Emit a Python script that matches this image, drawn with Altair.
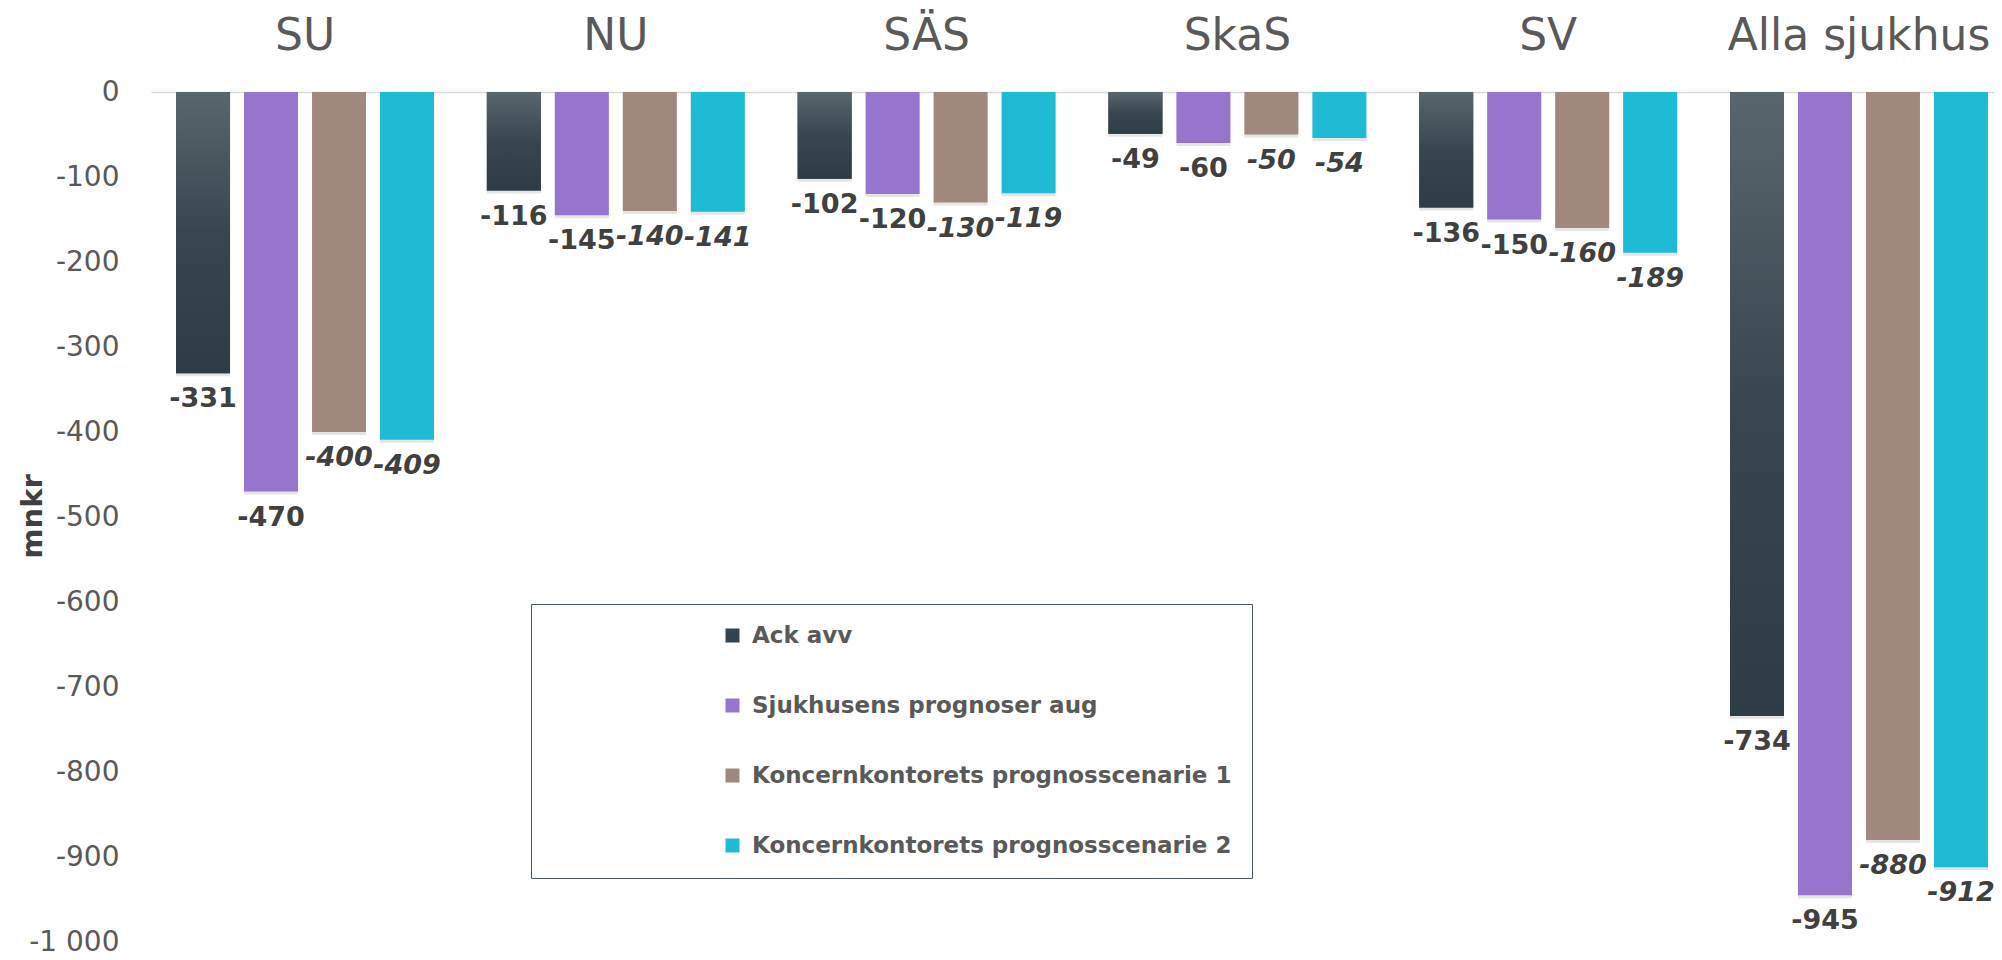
import altair as alt
import pandas as pd

hospitals = ["SU", "NU", "SÄS", "SkaS", "SV", "Alla sjukhus"]
series = [
    "Ack avv",
    "Sjukhusens prognoser aug",
    "Koncernkontorets prognosscenarie 1",
    "Koncernkontorets prognosscenarie 2",
]
ack_avv = [-331, -116, -102, -49, -136, -734]
sjukhusens = [-470, -145, -120, -60, -150, -945]
scenario1 = [-400, -140, -130, -50, -160, -880]
scenario2 = [-409, -141, -119, -54, -189, -912]
y_ticks = list(range(-1000, 1, 100))
colors = ["#34434d", "#9575cd", "#a1887f", "#1fbad3"]

rows = []
for s, vals in zip(series, [ack_avv, sjukhusens, scenario1, scenario2]):
    for h, v in zip(hospitals, vals):
        rows.append({"sjukhus": h, "serie": s, "mnkr": v, "etikett": str(v)})
df = pd.DataFrame(rows)

FONT = "DejaVu Sans"

x_enc = alt.X(
    "sjukhus:N",
    sort=hospitals,
    scale=alt.Scale(paddingInner=0.17, paddingOuter=0.05, align=0.806),
    axis=alt.Axis(
        orient="top", title=None, labelAngle=0, labelFont=FONT, labelFontSize=44,
        labelColor="#595959", labelPadding=56, labelBaseline="middle",
        ticks=False, tickSize=0, domainColor="#d9d9d9", domainWidth=1.5, labelLimit=500,
    ),
)
xoff_enc = alt.XOffset(
    "serie:N", sort=series,
    scale=alt.Scale(domain=series, paddingInner=0.206, paddingOuter=0),
)
y_enc = alt.Y(
    "mnkr:Q",
    scale=alt.Scale(domain=[-1000, 0], nice=False, zero=False),
    axis=alt.Axis(
        values=y_ticks, grid=False, domain=False, ticks=False, tickSize=0,
        labelPadding=32, labelFont=FONT, labelFontSize=28, labelColor="#595959",
        labelExpr="datum.value == 0 ? '0' : '-' + replace(format(-datum.value, ','), ',', ' ')",
        title="mnkr", titleFont=FONT, titleFontSize=29, titleFontWeight="bold",
        titleColor="#404040", titleX=-119, titleY=424, titleBaseline="middle", titleAngle=270,
    ),
)

base = alt.Chart(df).encode(x=x_enc, xOffset=xoff_enc, y=y_enc)

shadow = base.mark_bar(color="#000000", opacity=0.10, xOffset=2, yOffset=3)

bars = base.mark_bar().encode(
    color=alt.Color(
        "serie:N",
        scale=alt.Scale(domain=series, range=colors),
        legend=alt.Legend(
            orient="none", legendX=380, legendY=512, title=None, direction="vertical",
            symbolType="square", symbolSize=196, symbolStrokeWidth=0, symbolOffset=170,
            labelFont=FONT, labelFontSize=23, labelFontWeight="bold", labelColor="#595959",
            labelOffset=8, rowPadding=46, padding=20, strokeColor="#4a5860",
            fillColor="white", labelLimit=800,
        ),
    )
)

gradient = base.mark_bar(
    fill=alt.LinearGradient(
        gradient="linear", x1=0, y1=0, x2=0, y2=1,
        stops=[
            alt.GradientStop(offset=0, color="#5a666d"),
            alt.GradientStop(offset=0.5, color="#38464f"),
            alt.GradientStop(offset=1, color="#2e3c46"),
        ],
    )
).transform_filter(alt.datum.serie == "Ack avv")

labels_plain = base.mark_text(
    dy=26, baseline="middle", align="center", font=FONT, fontSize=27,
    fontWeight="bold", color="#404040",
).encode(text="etikett:N").transform_filter(
    alt.FieldOneOfPredicate(field="serie", oneOf=series[:2])
)

labels_italic = base.mark_text(
    dy=26, baseline="middle", align="center", font=FONT, fontSize=27,
    fontWeight="bold", fontStyle="italic", color="#404040",
).encode(text="etikett:N").transform_filter(
    alt.FieldOneOfPredicate(field="serie", oneOf=series[2:])
)

chart = alt.layer(shadow, bars, gradient, labels_plain, labels_italic).properties(
    width=1843, height=850,
    background="white",
    padding={"left": 143, "top": 84, "right": 0, "bottom": 14},
    autosize=alt.AutoSizeParams(type="none"),
).configure_view(stroke="transparent", strokeWidth=0)

chart.save("out.html", embed_options={"renderer": "svg", "actions": False})
